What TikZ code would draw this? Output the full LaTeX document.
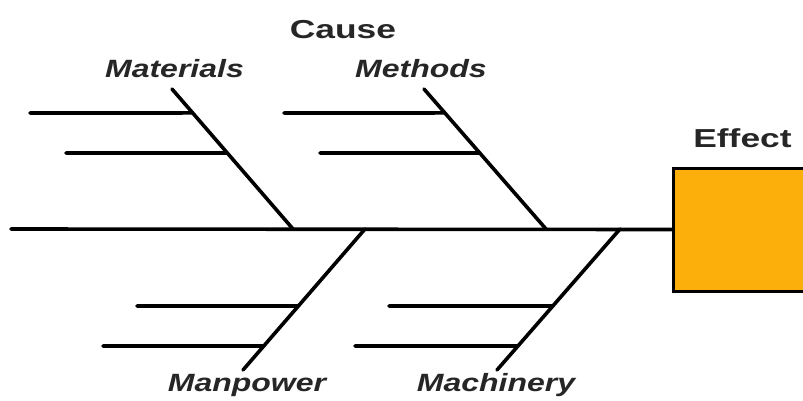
\documentclass[tikz,border=0pt]{standalone}
\usepackage{fontspec}
\usetikzlibrary{calc}
\newfontfamily\titlefont[FakeStretch=1.36]{Liberation Sans}
\newfontfamily\labfont[FakeStretch=1.28]{Liberation Sans}
\definecolor{effectorange}{RGB}{252,174,10}
\tikzset{
  bone/.style={line width=3.6pt, line cap=round, black},
  title/.style={font=\titlefont\bfseries\fontsize{26}{30}\selectfont, anchor=base, inner sep=0pt, text=black!85},
  cat/.style={font=\labfont\bfseries\itshape\fontsize{25}{29}\selectfont, anchor=base, inner sep=0pt, text=black!85},
  effbox/.style={draw=black, line width=3pt, fill=effectorange, minimum width=157pt, minimum height=123pt, inner sep=0pt}
}
\begin{document}
\begin{tikzpicture}[x=1pt,y=-1pt]
\useasboundingbox (0,0) rectangle (803,400);
\clip (0,0) rectangle (803,400);
% effect box
\node[effbox] (effect) at (751.5,229.5) {};
\node[title] (efftxt) at (742.5,147) {Effect};
\node[title] (cause) at (343,38) {Cause};
% spine
\coordinate (spinestart) at (11,229);
\draw[bone] (spinestart) -- (effect.west);
% Materials
\coordinate (mattop) at (172,89);
\coordinate (matbot) at (293,229);
\draw[bone] (mattop) -- (matbot);
\coordinate (mata) at (30,113);
\coordinate (matb) at (66,153);
\draw[bone] (mata) -- ($(mattop)!0.171!(matbot)$);
\draw[bone] (matb) -- ($(mattop)!0.457!(matbot)$);
\node[cat] (materials) at (174.5,77) {Materials};
% Methods
\coordinate (mettop) at (424,89);
\coordinate (metbot) at (546,229);
\draw[bone] (mettop) -- (metbot);
\coordinate (meta) at (284,113);
\coordinate (metb) at (320,153);
\draw[bone] (meta) -- ($(mettop)!0.171!(metbot)$);
\draw[bone] (metb) -- ($(mettop)!0.457!(metbot)$);
\node[cat] (methods) at (421,77) {Methods};
% Manpower
\coordinate (manbot) at (243,370);
\coordinate (mantop) at (365,229);
\draw[bone] (manbot) -- (mantop);
\coordinate (mana) at (137,306);
\coordinate (manb) at (103,346);
\draw[bone] (mana) -- ($(manbot)!0.454!(mantop)$);
\draw[bone] (manb) -- ($(manbot)!0.170!(mantop)$);
\node[cat] (manpower) at (247,391) {Manpower};
% Machinery
\coordinate (macbot) at (497,370);
\coordinate (mactop) at (620,229);
\draw[bone] (macbot) -- (mactop);
\coordinate (maca) at (389,306);
\coordinate (macb) at (355,346);
\draw[bone] (maca) -- ($(macbot)!0.454!(mactop)$);
\draw[bone] (macb) -- ($(macbot)!0.170!(mactop)$);
\node[cat] (machinery) at (496,391) {Machinery};
\end{tikzpicture}
\end{document}
